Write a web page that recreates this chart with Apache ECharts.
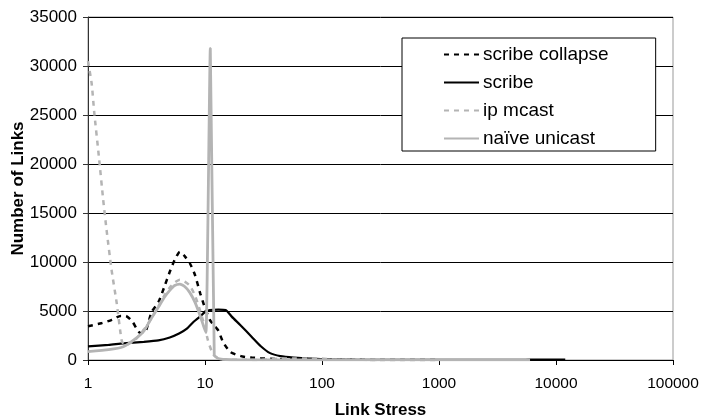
<!DOCTYPE html>
<html>
<head>
<meta charset="utf-8">
<script src="https://cdn.jsdelivr.net/npm/echarts@6/dist/echarts.min.js"></script>
<style>
html,body{margin:0;padding:0;background:#fff;}
#chart{width:702px;height:415px;}
</style>
</head>
<body>
<div id="chart"></div>
<script>
// ---- data ----
const seriesNames = ['scribe collapse', 'scribe', 'ip mcast', 'naïve unicast'];
const xTicks = [1, 10, 100, 1000, 10000, 100000];
const yTicks = [0, 5000, 10000, 15000, 20000, 25000, 30000, 35000];

const collapseX = [1, 1.3, 1.6, 1.9, 2.1, 2.4, 2.8, 3.1, 3.5, 4, 4.5, 5, 5.5, 6.1, 6.7, 7.4, 8.2, 9.1, 10, 11, 12, 13, 14.3, 16.3, 18, 21, 25, 30, 40, 50, 70, 100, 150, 200, 300, 500, 1000];
const collapseY = [3450, 3750, 4100, 4500, 4500, 3900, 2750, 2900, 4900, 5900, 7500, 9000, 10200, 11050, 10600, 9900, 8700, 6800, 5300, 4100, 3500, 3000, 1800, 850, 600, 350, 250, 180, 100, 70, 40, 30, 20, 15, 10, 5, 0];

const scribeX = [1, 1.5, 2, 3, 4, 5, 6, 7, 8, 9, 10, 11, 13, 15, 17, 20, 25, 30, 36, 44, 57, 79, 100, 150, 200, 500, 1000, 5000, 6000, 12000];
const scribeY = [1400, 1550, 1700, 1850, 2000, 2300, 2700, 3200, 3900, 4400, 4900, 5100, 5150, 5100, 4400, 3570, 2380, 1400, 700, 400, 250, 150, 80, 40, 20, 10, 5, 5, 40, 40];

const mcastX = [1, 1.075, 1.13, 1.24, 1.35, 1.44, 1.59, 1.76, 1.94, 2.07, 2.5, 3, 3.5, 4, 4.5, 5, 5.5, 6.1, 6.7, 7.4, 8.2, 9.1, 10, 10.6, 11.7, 13, 15, 20, 30, 44, 60, 80, 100, 120, 200, 300];
const mcastY = [30500, 28200, 25300, 20700, 16300, 13300, 9200, 5800, 2000, 1500, 2000, 3100, 4300, 5500, 6600, 7400, 7900, 8200, 8000, 7600, 6600, 5000, 3300, 2000, 600, 150, 50, 20, 10, 150, 150, 150, 150, 50, 20, 0];

const unicastX = [1, 1.5, 2, 2.5, 3, 3.5, 4, 4.5, 5, 5.5, 6.1, 6.7, 7.4, 8.2, 9.1, 9.7, 10.2, 11.1, 12, 13, 15, 20, 50, 100, 1000, 6000];
const unicastY = [850, 1050, 1350, 2100, 2950, 4300, 5400, 6400, 7100, 7600, 7750, 7500, 6900, 5900, 4500, 3500, 2800, 31800, 500, 150, 50, 20, 10, 5, 5, 5];

function pairs(xs, ys) { return xs.map((x, i) => [x, ys[i]]); }

const FONT = '"Liberation Sans", Arial, sans-serif';
const chart = echarts.init(document.getElementById('chart'), null, {renderer: 'canvas'});

chart.setOption({
  animation: false,
  backgroundColor: '#fff',
  textStyle: {fontFamily: FONT},
  grid: {left: 88, right: 29, top: 17, bottom: 55, show: true, borderColor: '#999', borderWidth: 1,
    containLabel: false, outerBoundsMode: 'none'},
  legend: {
    data: seriesNames,
    orient: 'vertical',
    left: 402, top: 38,
    padding: [7, 47, 3, 41],
    itemWidth: 35, itemHeight: 14, itemGap: 9,
    backgroundColor: '#fff',
    borderColor: '#000', borderWidth: 1,
    itemStyle: {opacity: 0},
    textStyle: {fontSize: 19, color: '#000', fontFamily: FONT, padding: [0, 0, 0, -1]}
  },
  xAxis: {
    type: 'log', logBase: 10, min: 1, max: 100000,
    name: 'Link Stress', nameLocation: 'middle', nameGap: 42, nameMoveOverlap: false,
    nameTextStyle: {fontSize: 17, fontWeight: 'bold', color: '#000', fontFamily: FONT},
    axisLine: {show: true, onZero: false, lineStyle: {color: '#000', width: 1}},
    axisTick: {show: true, inside: false, length: 5, lineStyle: {color: '#000'}},
    minorTick: {show: false},
    splitLine: {show: false},
    axisLabel: {fontSize: 15.5, color: '#000', margin: 16, fontFamily: FONT,
      formatter: v => String(Math.round(v))}
  },
  yAxis: {
    type: 'value', min: 0, max: 35000, interval: 5000,
    name: 'Number of Links', nameLocation: 'middle', nameGap: 61, nameRotate: 90, nameMoveOverlap: false,
    nameTextStyle: {fontSize: 17, fontWeight: 'bold', color: '#000', fontFamily: FONT},
    axisLine: {show: true, lineStyle: {color: '#333', width: 1}},
    axisTick: {show: true, inside: false, length: 5, lineStyle: {color: '#333'}},
    splitLine: {show: true, lineStyle: {color: '#000', width: 1}},
    axisLabel: {fontSize: 17, color: '#000', margin: 11, fontFamily: FONT,
      formatter: v => String(v)}
  },
  series: [
    {name: seriesNames[0], type: 'line', data: pairs(collapseX, collapseY), symbol: 'none', smooth: 0.2,
      lineStyle: {color: '#000', width: 2.5, type: [5, 5]}, itemStyle: {color: '#000'}},
    {name: seriesNames[1], type: 'line', data: pairs(scribeX, scribeY), symbol: 'none', smooth: 0.2,
      lineStyle: {color: '#000', width: 2.2, type: 'solid'}, itemStyle: {color: '#000'}},
    {name: seriesNames[2], type: 'line', data: pairs(mcastX, mcastY), symbol: 'none', smooth: 0.2,
      lineStyle: {color: '#b4b4b4', width: 2.5, type: [5, 5]}, itemStyle: {color: '#b4b4b4'}},
    {name: seriesNames[3], type: 'line', data: pairs(unicastX, unicastY), symbol: 'none', smooth: 0.15,
      lineStyle: {color: '#b4b4b4', width: 2.8, type: 'solid'}, itemStyle: {color: '#b4b4b4'}}
  ]
});
</script>
</body>
</html>
